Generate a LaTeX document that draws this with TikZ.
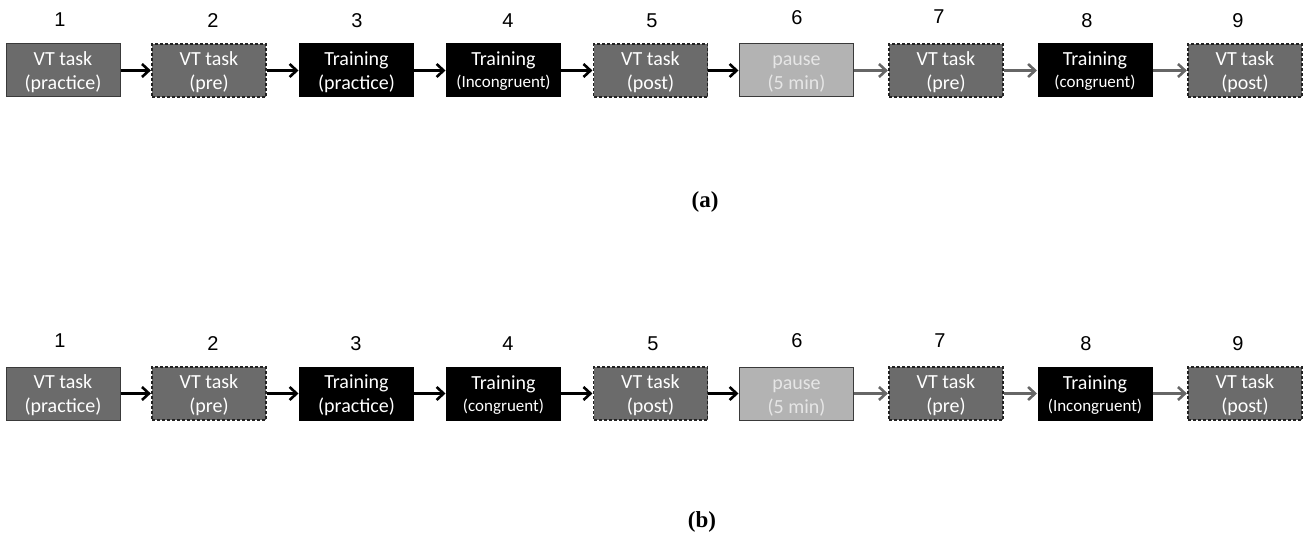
\documentclass[tikz,border=0pt]{standalone}
\usepackage{fontspec}
\setmainfont{Liberation Serif}
\newfontfamily\boxfont{Carlito}
\newfontfamily\numfont{Liberation Sans}
\usetikzlibrary{arrows.meta}
\definecolor{midgray}{HTML}{6B6B6B}
\definecolor{lightfill}{HTML}{B3B3B3}
\definecolor{edgegray}{HTML}{3A3A3A}
\definecolor{dashgray}{HTML}{222222}
\definecolor{arrowgray}{HTML}{666666}
\definecolor{pausetext}{HTML}{E6E6E6}
\tikzset{
  box/.style={rectangle, minimum width=114pt, minimum height=53pt, inner sep=0pt,
    align=center, text=white, font=\boxfont\fontsize{20}{24}\selectfont, line width=1pt},
  solidbox/.style={box, fill=midgray, draw=edgegray},
  dashbox/.style={box, fill=midgray, draw=dashgray, line width=1.2pt, dash pattern=on 3pt off 2pt},
  blackbox/.style={box, fill=black, draw=black},
  pausebox/.style={box, fill=lightfill, draw=edgegray, text=pausetext},
  num/.style={anchor=base, font=\numfont\fontsize{20}{24}\selectfont, inner sep=0pt},
  lab/.style={font=\bfseries\fontsize{23}{26}\selectfont, inner sep=0pt},
  conn/.style={line width=2.6pt, -{Straight Barb[length=7pt,width=13pt]}, shorten >=0.5pt},
  darkconn/.style={conn, draw=black},
  greyconn/.style={conn, draw=arrowgray},
}
\newcommand{\twol}[2]{\rule{0pt}{18pt}#1\\#2\rule[-3pt]{0pt}{3pt}}
\newcommand{\twos}[2]{\rule{0pt}{18pt}#1\\[-2pt]{\fontsize{17}{24}\selectfont #2}\rule[-5pt]{0pt}{5pt}}
\begin{document}
\begin{tikzpicture}[x=1pt,y=-1pt]
\useasboundingbox (0,0) rectangle (1306,537);
% ---------- row (a) ----------
\node[solidbox] (a1) at (63,70.5) {\twol{VT task}{(practice)}};
\node[dashbox]  (a2) at (209,70.5) {\twol{VT task}{(pre)}};
\node[blackbox] (a3) at (356.5,70.5) {\twol{Training}{(practice)}};
\node[blackbox] (a4) at (503.5,70.5) {\twos{Training}{(Incongruent)}};
\node[dashbox]  (a5) at (650.5,70.5) {\twol{VT task}{(post)}};
\node[pausebox] (a6) at (796.5,70.5) {\twol{pause}{(5 min)}};
\node[dashbox]  (a7) at (946,70.5) {\twol{VT task}{(pre)}};
\node[blackbox] (a8) at (1095,70.5) {\twos{Training}{(congruent)}};
\node[dashbox]  (a9) at (1245,70.5) {\twol{VT task}{(post)}};
\node[num] (na1) at (60,27) {1};
\node[num] (na2) at (213,28) {2};
\node[num] (na3) at (357,28) {3};
\node[num] (na4) at (508,28) {4};
\node[num] (na5) at (652,28) {5};
\node[num] (na6) at (797,25) {6};
\node[num] (na7) at (939,24) {7};
\node[num] (na8) at (1087,28) {8};
\node[num] (na9) at (1238,28) {9};
\draw[darkconn] (a1) -- (a2);
\draw[darkconn] (a2) -- (a3);
\draw[darkconn] (a3) -- (a4);
\draw[darkconn] (a4) -- (a5);
\draw[darkconn] (a5) -- (a6);
\draw[greyconn] (a6) -- (a7);
\draw[greyconn] (a7) -- (a8);
\draw[greyconn] (a8) -- (a9);
\node[lab] (capa) at (705,202) {(a)};
% ---------- row (b) ----------
\node[solidbox] (b1) at (63,393.5) {\twol{VT task}{(practice)}};
\node[dashbox]  (b2) at (209,393.5) {\twol{VT task}{(pre)}};
\node[blackbox] (b3) at (356.5,393.5) {\twol{Training}{(practice)}};
\node[blackbox] (b4) at (503.5,393.5) {\twos{Training}{(congruent)}};
\node[dashbox]  (b5) at (650.5,393.5) {\twol{VT task}{(post)}};
\node[pausebox] (b6) at (796.5,393.5) {\twol{pause}{(5 min)}};
\node[dashbox]  (b7) at (946,393.5) {\twol{VT task}{(pre)}};
\node[blackbox] (b8) at (1095,393.5) {\twos{Training}{(Incongruent)}};
\node[dashbox]  (b9) at (1245,393.5) {\twol{VT task}{(post)}};
\node[num] (nb1) at (60,347) {1};
\node[num] (nb2) at (213,350) {2};
\node[num] (nb3) at (356,350) {3};
\node[num] (nb4) at (508,350) {4};
\node[num] (nb5) at (653,350) {5};
\node[num] (nb6) at (797,347) {6};
\node[num] (nb7) at (940,347) {7};
\node[num] (nb8) at (1086,350) {8};
\node[num] (nb9) at (1238,350) {9};
\draw[darkconn] (b1) -- (b2);
\draw[darkconn] (b2) -- (b3);
\draw[darkconn] (b3) -- (b4);
\draw[darkconn] (b4) -- (b5);
\draw[darkconn] (b5) -- (b6);
\draw[greyconn] (b6) -- (b7);
\draw[greyconn] (b7) -- (b8);
\draw[greyconn] (b8) -- (b9);
\node[lab] (capb) at (702,522) {(b)};
\end{tikzpicture}
\end{document}
